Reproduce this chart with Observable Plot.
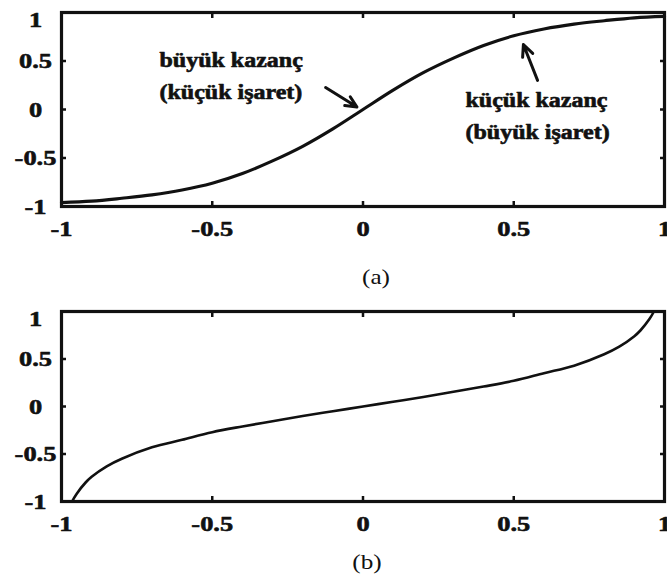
<!DOCTYPE html>
<html>
<head>
<meta charset="utf-8">
<script src="https://cdn.jsdelivr.net/npm/d3@7"></script>
<script src="https://cdn.jsdelivr.net/npm/@observablehq/plot@0.6"></script>
<style>
  html, body { margin: 0; padding: 0; background: #fff; }
  #root { position: relative; width: 667px; height: 581px; overflow: hidden; font-family: "Liberation Serif", "Times New Roman", serif; }
  .panel { position: absolute; left: 0; }
  .cap { position: absolute; z-index: 5; font-size: 21px; color: #111; transform: translate(-50%, -50%) scaleX(1.2); white-space: nowrap; line-height: 1; }
</style>
</head>
<body>
<div id="root">
  <div class="panel" id="pa" style="top:0px"></div>
  <div class="panel" id="pb" style="top:280px"></div>
  <div class="cap" style="left:376px; top:277px">(a)</div>
  <div class="cap" style="left:367px; top:562px">(b)</div>
</div>
<script>
// Panel (a): saturating curve
const xA = [-1, -0.9, -0.8, -0.7, -0.6, -0.5, -0.4, -0.3, -0.2, -0.1, 0, 0.1, 0.2, 0.3, 0.4, 0.5, 0.6, 0.7, 0.8, 0.9, 1];
const yA = [-0.96, -0.945, -0.915, -0.88, -0.83, -0.76, -0.66, -0.53, -0.38, -0.2, 0, 0.2, 0.38, 0.53, 0.66, 0.76, 0.83, 0.88, 0.915, 0.945, 0.96];

// Panel (b): inverse curve
const xB = [-0.965, -0.95, -0.92, -0.9, -0.85, -0.8, -0.7, -0.6, -0.5, -0.4, -0.3, -0.2, -0.1, 0, 0.1, 0.2, 0.3, 0.4, 0.5, 0.6, 0.7, 0.8, 0.85, 0.9, 0.92, 0.95, 0.965];
const yB = [-1, -0.92, -0.8, -0.74, -0.63, -0.55, -0.43, -0.35, -0.27, -0.21, -0.155, -0.1, -0.05, 0, 0.05, 0.1, 0.155, 0.21, 0.27, 0.35, 0.43, 0.55, 0.63, 0.74, 0.8, 0.92, 1];

// Axis ticks and labels
const tickVals = [-0.5, 0, 0.5];
const labelVals = [-1, -0.5, 0, 0.5];
const topLabel = [1];
const xLabelVals = [-1, -0.5, 0, 0.5, 1];

// Annotations for panel (a)
const annText = ["büyük kazanç\n(küçük işaret)", "küçük kazanç\n(büyük işaret)"];
const annX = [-0.675, 0.34];
const annY = [0.376, -0.03];
const arrX1 = [-0.124, 0.579];
const arrY1 = [0.227, 0.30];
const arrX2 = [-0.02, 0.532];
const arrY2 = [0.025, 0.67];

const FONT = "Liberation Serif, Times New Roman, serif";
const SX = 1.2;

function stretchText(svg) {
  svg.querySelectorAll("text").forEach(t => {
    const b = t.getBBox();
    const a = getComputedStyle(t).textAnchor;
    const cx = a === "middle" ? b.x + b.width / 2 : a === "end" ? b.x + b.width : b.x;
    const tr = t.getAttribute("transform") || "";
    t.setAttribute("transform", `${tr} translate(${cx},0) scale(${SX},1) translate(${-cx},0)`);
  });
}

function axesMarks() {
  const lab = {fontSize: 22, fontWeight: "bold", fontFamily: FONT, fill: "#111", textStroke: "#111", textStrokeWidth: 0.6};
  return [
    // inward ticks on all four sides
    Plot.axisX(tickVals, {anchor: "bottom", tickSize: 5, dy: -5, fill: "none", strokeWidth: 2.5, label: null}),
    Plot.axisX(tickVals, {anchor: "top", tickSize: 5, dy: 5, fill: "none", strokeWidth: 2.5, label: null}),
    Plot.axisY(tickVals, {anchor: "left", tickSize: 5, dx: 5, fill: "none", strokeWidth: 2.5, label: null}),
    Plot.axisY(tickVals, {anchor: "right", tickSize: 5, dx: -5, fill: "none", strokeWidth: 2.5, label: null}),
    // labels
    Plot.axisX(xLabelVals, {anchor: "bottom", tickSize: 0, tickPadding: 14, tickFormat: d => String(d), label: null, ...lab}),
    Plot.axisY(labelVals, {anchor: "left", tickSize: 0, tickPadding: 26, textAnchor: "middle", tickFormat: d => String(d), label: null, ...lab}),
    Plot.axisY(topLabel, {anchor: "left", tickSize: 0, tickPadding: 26, textAnchor: "middle", tickFormat: d => String(d), label: null, dy: 7, ...lab})
  ];
}

const commonA = {
  width: 667, height: 240,
  marginLeft: 61, marginRight: 3, marginTop: 12, marginBottom: 34,
  x: {domain: [-1, 1], axis: null},
  y: {domain: [-1, 1], axis: null},
  style: {fontFamily: FONT, background: "transparent", color: "#111", overflow: "visible"}
};

const plotA = Plot.plot({
  ...commonA,
  marks: [
    Plot.line(xA.map((x, i) => ({x, y: yA[i]})), {x: "x", y: "y", curve: "catmull-rom", stroke: "#111", strokeWidth: 3.2}),
    Plot.arrow(arrX1.map((x1, i) => ({x1, y1: arrY1[i], x2: arrX2[i], y2: arrY2[i]})), {x1: "x1", y1: "y1", x2: "x2", y2: "y2", stroke: "#111", strokeWidth: 3, headLength: 9, headAngle: 50}),
    Plot.text(annText.map((t, i) => ({t, x: annX[i], y: annY[i]})), {x: "x", y: "y", text: "t", textAnchor: "start", lineAnchor: "middle", lineHeight: 1.6, fontSize: 20, fontWeight: "bold", fontFamily: FONT, fill: "#111", stroke: "#111", strokeWidth: 0.6}),
    ...axesMarks(),
    Plot.frame({stroke: "#111", strokeWidth: 3.2})
  ]
});

const plotB = Plot.plot({
  ...commonA,
  height: 250, marginTop: 31, marginBottom: 29,
  marks: [
    Plot.line(xB.map((x, i) => ({x, y: yB[i]})), {x: "x", y: "y", curve: "catmull-rom", stroke: "#111", strokeWidth: 2.6}),
    ...axesMarks(),
    Plot.frame({stroke: "#111", strokeWidth: 3.2})
  ]
});

document.getElementById("pa").appendChild(plotA);
document.getElementById("pb").appendChild(plotB);
stretchText(plotA);
stretchText(plotB);
</script>
</body>
</html>
